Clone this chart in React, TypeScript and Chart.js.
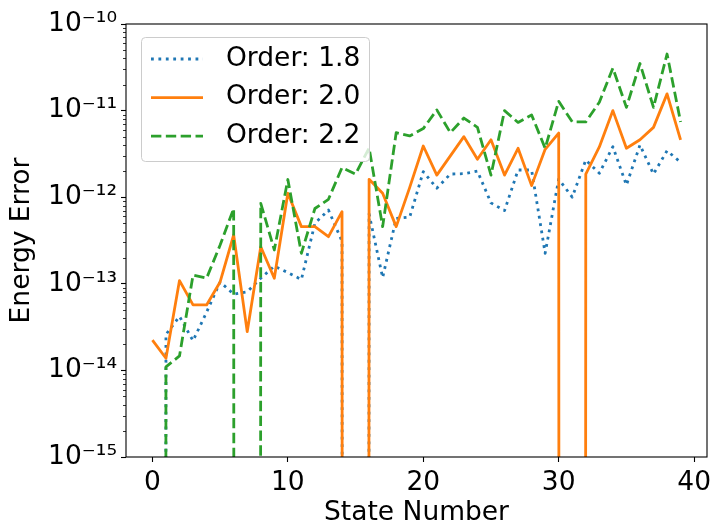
import React, { useEffect, useRef } from 'react';
import { Chart, registerables } from 'chart.js';

Chart.register(...registerables);

const stateNumbers = [
  0, 1, 2, 3, 4, 5, 6, 7, 8, 9, 10, 11, 12, 13, 14, 15, 16, 17, 18, 19,
  20, 21, 22, 23, 24, 25, 26, 27, 28, 29, 30, 31, 32, 33, 34, 35, 36, 37, 38, 39,
];

const order18 = [
  0, 2.6e-14, 4.2e-14, 2.2e-14, 4.7e-14, 1.05e-13, 7.6e-14, 8.1e-14, 1.16e-13, 1.6e-13,
  1.35e-13, 1.12e-13, 5.0e-13, 7.1e-13, 3.1e-13, 0, 6.4e-13, 1.18e-13, 5.7e-13, 5.9e-13,
  1.97e-12, 1.27e-12, 1.85e-12, 1.87e-12, 2.0e-12, 8.6e-13, 7.0e-13, 2.06e-12, 2.06e-12, 2.25e-13,
  1.62e-12, 1.0e-12, 2.69e-12, 1.89e-12, 3.83e-12, 1.38e-12, 4.0e-12, 1.85e-12, 3.44e-12, 2.53e-12,
];

const order20 = [
  2.24e-14, 1.38e-14, 1.09e-13, 5.7e-14, 5.7e-14, 1.05e-13, 3.66e-13, 2.8e-14, 2.68e-13, 1.16e-13,
  1.11e-12, 4.57e-13, 4.57e-13, 3.5e-13, 6.8e-13, 0, 1.61e-12, 1.11e-12, 4.57e-13, 1.3e-12,
  3.9e-12, 1.8e-12, 3.0e-12, 5.0e-12, 2.74e-12, 4.6e-12, 1.8e-12, 3.67e-12, 1.36e-12, 3.57e-12,
  5.5e-12, 0, 1.85e-12, 3.8e-12, 1.0e-11, 3.67e-12, 4.6e-12, 6.4e-12, 1.56e-11, 4.6e-12,
];

const order22 = [
  0, 1.1e-14, 1.47e-14, 1.26e-13, 1.16e-13, 2.8e-13, 7.4e-13, 0, 8.5e-13, 2.46e-13,
  1.6e-12, 2.25e-13, 7.4e-13, 9.46e-13, 2.2e-12, 1.85e-12, 3.7e-12, 4.57e-13, 5.56e-12, 5.1e-12,
  6.2e-12, 1.02e-11, 5.56e-12, 8.2e-12, 6.4e-12, 1.8e-12, 1.0e-11, 7.3e-12, 8.9e-12, 3.67e-12,
  1.28e-11, 7.4e-12, 7.4e-12, 1.25e-11, 3.1e-11, 1.09e-11, 3.5e-11, 1.09e-11, 4.5e-11, 7.4e-12,
];

const seriesLabels = ['Order: 1.8', 'Order: 2.0', 'Order: 2.2'];
const seriesColors = ['#1f77b4', '#ff7f0e', '#2ca02c'];
const yDecades = [1e-15, 1e-14, 1e-13, 1e-12, 1e-11, 1e-10];
const xTickValues = [0, 10, 20, 30, 40];
const xTitle = 'State Number';
const yTitle = 'Energy Error';

const FONT = "'DejaVu Sans', sans-serif";
const FS = 26.5;
const LW = 2.8;

const SUP: Record<string, string> = {
  '-': '⁻', '0': '⁰', '1': '¹', '2': '²', '3': '³', '4': '⁴',
  '5': '⁵', '6': '⁶', '7': '⁷', '8': '⁸', '9': '⁹',
};
const toSup = (s: string) => s.split('').map((c) => SUP[c] ?? c).join('');
const decadeLabel = (v: number) => '10' + toSup(String(Math.round(Math.log10(v))));

// matplotlib's log axis clips non-positive values to a tiny positive number
const LOG_FLOOR = 1e-300;
const toPoints = (vals: number[]) =>
  vals.map((v, i) => ({ x: stateNumbers[i], y: v > 0 ? v : LOG_FLOOR }));

const decorPlugin = {
  id: 'decor',
  afterDraw(chart: any) {
    const { ctx, chartArea: a, scales } = chart;
    const ys = scales.y;
    ctx.save();
    // minor log ticks
    ctx.strokeStyle = '#000';
    ctx.lineWidth = 0.8;
    for (let k = 0; k < yDecades.length - 1; k++) {
      for (let m = 2; m <= 9; m++) {
        const py = Math.round(ys.getPixelForValue(yDecades[k] * m)) + 0.5;
        ctx.beginPath();
        ctx.moveTo(a.left, py);
        ctx.lineTo(a.left - 3, py);
        ctx.stroke();
      }
    }
    // frame
    ctx.lineWidth = 1.1;
    ctx.strokeStyle = '#000';
    ctx.strokeRect(a.left, a.top, a.right - a.left, a.bottom - a.top);

    // legend
    const lx = a.left + 15;
    const ly = a.top + 13;
    const lw = 228;
    const lh = 124;
    ctx.beginPath();
    ctx.roundRect(lx + 0.5, ly + 0.5, lw, lh, 4);
    ctx.fillStyle = 'rgba(255,255,255,0.8)';
    ctx.fill();
    ctx.strokeStyle = '#cccccc';
    ctx.lineWidth = 1;
    ctx.stroke();
    const rows = [22, 60.6, 99.2];
    chart.data.datasets.forEach((ds: any, i: number) => {
      const ry = ly + rows[i];
      ctx.beginPath();
      ctx.strokeStyle = ds.borderColor;
      ctx.lineWidth = ds.borderWidth;
      ctx.lineCap = 'butt';
      ctx.setLineDash(ds.borderDash || []);
      ctx.moveTo(lx + 10, ry);
      ctx.lineTo(lx + 62, ry);
      ctx.stroke();
      ctx.setLineDash([]);
      ctx.fillStyle = '#000';
      ctx.font = `${FS}px ${FONT}`;
      ctx.textBaseline = 'middle';
      ctx.textAlign = 'left';
      ctx.fillText(ds.label, lx + 85, ry);
    });
    ctx.restore();
  },
};

export default function App() {
  const ref = useRef<HTMLCanvasElement | null>(null);
  useEffect(() => {
    document.body.style.margin = '0';
    if (!ref.current) return;
    const dashes = [[LW, 1.65 * LW], [], [3.7 * LW, 1.6 * LW]];
    const series = [order18, order20, order22];
    const chart = new Chart(ref.current, {
      type: 'line',
      data: {
        datasets: series.map((vals, i) => ({
          label: seriesLabels[i],
          data: toPoints(vals),
          borderColor: seriesColors[i],
          backgroundColor: seriesColors[i],
          borderWidth: LW,
          borderDash: dashes[i],
          borderCapStyle: 'butt',
          borderJoinStyle: 'round',
          pointRadius: 0,
          fill: false,
          tension: 0,
          order: 2 - i,
        })),
      },
      options: {
        responsive: false,
        animation: false,
        layout: { padding: { top: 24, right: 5, left: 0, bottom: 0 } },
        plugins: { legend: { display: false }, tooltip: { enabled: false } },
        scales: {
          x: {
            type: 'linear',
            min: -1.95,
            max: 40.95,
            afterBuildTicks: (s: any) => {
              s.ticks = xTickValues.map((v) => ({ value: v }));
            },
            afterFit: (s: any) => {
              s.height = 68;
              s.paddingLeft = 0;
              s.paddingRight = 0;
            },
            grid: {
              display: true,
              drawOnChartArea: false,
              drawTicks: true,
              tickLength: 5,
              tickColor: '#000',
              tickWidth: 1.1,
            },
            border: { display: false },
            ticks: {
              font: { family: FONT, size: FS },
              color: '#000',
              padding: 5,
              maxRotation: 0,
              autoSkip: false,
              callback: (v: any) => String(v),
            },
            title: {
              display: true,
              text: xTitle,
              color: '#000',
              font: { family: FONT, size: FS, lineHeight: 0.9 },
              padding: 0,
            },
          },
          y: {
            type: 'logarithmic',
            min: 1e-15,
            max: 1e-10,
            afterBuildTicks: (s: any) => {
              s.ticks = yDecades.map((v) => ({ value: v, major: true }));
            },
            afterFit: (s: any) => {
              s.width = 126;
              s.paddingTop = 0;
              s.paddingBottom = 0;
            },
            grid: {
              display: true,
              drawOnChartArea: false,
              drawTicks: true,
              tickLength: 5,
              tickColor: '#000',
              tickWidth: 1.1,
            },
            border: { display: false },
            ticks: {
              font: { family: FONT, size: FS },
              color: '#000',
              padding: 4,
              autoSkip: false,
              callback: (v: any) => decadeLabel(Number(v)),
            },
            title: {
              display: true,
              text: yTitle,
              color: '#000',
              font: { family: FONT, size: FS },
              padding: { top: 6, bottom: 0 },
            },
          },
        },
      },
      plugins: [decorPlugin],
    } as any);
    return () => chart.destroy();
  }, []);
  return (
    <div style={{ width: 712, height: 525 }}>
      <canvas ref={ref} width={712} height={525} style={{ display: 'block' }} />
    </div>
  );
}
